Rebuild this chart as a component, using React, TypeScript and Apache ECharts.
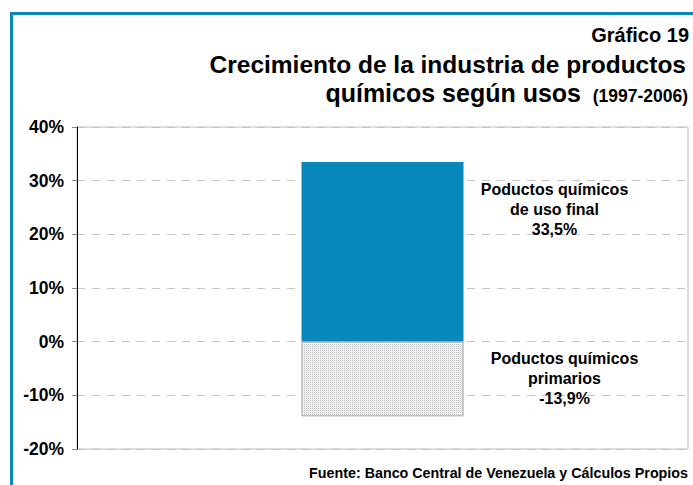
import React, { useEffect, useRef } from "react";
import * as echarts from "echarts";

const categories = ["Productos químicos"];
const usoFinal = [33.5];
const primarios = [-13.9];
const yMin = -20;
const yMax = 40;
const yInterval = 10;
const labelUsoFinal = ["Poductos químicos", "de uso final", "33,5%"];
const labelPrimarios = ["Poductos químicos", "primarios", "-13,9%"];

const FONT = "Arial, 'Liberation Sans', sans-serif";
const BLUE = "#0888bb";

export default function App() {
  const ref = useRef<HTMLDivElement>(null);
  useEffect(() => {
    if (!ref.current) return;
    const chart = echarts.init(ref.current, null, { renderer: "svg" });
    chart.setOption({
      animation: false,
      backgroundColor: "#ffffff",
      textStyle: { fontFamily: FONT },
      grid: {
        left: 77,
        right: 5,
        top: 127,
        bottom: 36,
        show: true,
        borderColor: "#bdbdbd",
        borderWidth: 1,
        backgroundColor: "transparent",
      },
      xAxis: {
        type: "category",
        data: categories,
        axisLine: { show: false },
        axisTick: { show: false },
        axisLabel: { show: false },
        splitLine: { show: false },
      },
      yAxis: {
        type: "value",
        min: yMin,
        max: yMax,
        interval: yInterval,
        axisLine: { show: true, lineStyle: { color: "#000", width: 1 } },
        axisTick: { show: true, length: 5, lineStyle: { color: "#888" } },
        axisLabel: {
          formatter: "{value}%",
          color: "#000",
          fontWeight: "bold",
          fontSize: 17.5,
          fontFamily: FONT,
          margin: 13,
        },
        splitLine: {
          show: true,
          lineStyle: { color: "#c4c4c4", type: [8, 7], width: 1 },
        },
      },
      series: [
        {
          name: "uso final",
          type: "bar",
          stack: "total",
          barWidth: 162,
          data: usoFinal,
          itemStyle: { color: BLUE },
          label: {
            show: true,
            position: "right",
            distance: 91,
            align: "center",
            verticalAlign: "middle",
            offset: [0, -42],
            formatter: () => labelUsoFinal.join("\n"),
            color: "#000",
            fontWeight: "bold",
            fontSize: 16,
            lineHeight: 20,
            fontFamily: FONT,
          },
        },
        {
          name: "primarios",
          type: "bar",
          stack: "total",
          barWidth: 162,
          data: primarios,
          itemStyle: {
            color: "#f1f1f1",
            borderColor: "#bdbdbd",
            borderWidth: 1,
            decal: {
              symbol: "rect",
              symbolSize: 1,
              dashArrayX: [1, 1],
              dashArrayY: [1, 1],
              color: "rgba(150,150,150,0.55)",
              rotation: 0,
            },
          },
          label: {
            show: true,
            position: "right",
            distance: 101,
            align: "center",
            verticalAlign: "middle",
            offset: [0, 0],
            formatter: () => labelPrimarios.join("\n"),
            color: "#000",
            fontWeight: "bold",
            fontSize: 16,
            lineHeight: 20,
            fontFamily: FONT,
          },
        },
      ],
      graphic: [
        {
          type: "line",
          shape: { x1: 11.5, y1: 13.5, x2: 11.5, y2: 485 },
          style: { stroke: BLUE, lineWidth: 3 },
          z: 10,
        },
        {
          type: "line",
          shape: { x1: 10, y1: 13.5, x2: 693, y2: 13.5 },
          style: { stroke: BLUE, lineWidth: 3 },
          z: 10,
        },
        {
          type: "text",
          right: 4,
          top: 25,
          style: {
            text: "Gráfico 19",
            font: `bold 20px ${FONT}`,
            fill: "#000",
          },
        },
        {
          type: "text",
          right: 7,
          top: 52,
          style: {
            text: "Crecimiento de la industria de productos",
            font: `bold 24.5px ${FONT}`,
            fill: "#000",
          },
        },
        {
          type: "text",
          right: 112,
          top: 80,
          style: {
            text: "químicos según usos",
            font: `bold 25px ${FONT}`,
            fill: "#000",
          },
        },
        {
          type: "text",
          right: 5,
          top: 86.5,
          style: {
            text: "(1997-2006)",
            font: `bold 17.5px ${FONT}`,
            fill: "#000",
          },
        },
        {
          type: "text",
          right: 5,
          top: 466,
          style: {
            text: "Fuente: Banco Central de Venezuela y Cálculos Propios",
            font: `bold 14.3px ${FONT}`,
            fill: "#000",
          },
        },
      ],
    });
    return () => chart.dispose();
  }, []);
  return (
    <div
      ref={ref}
      style={{ position: "fixed", left: 0, top: 0, width: 693, height: 485 }}
    />
  );
}
